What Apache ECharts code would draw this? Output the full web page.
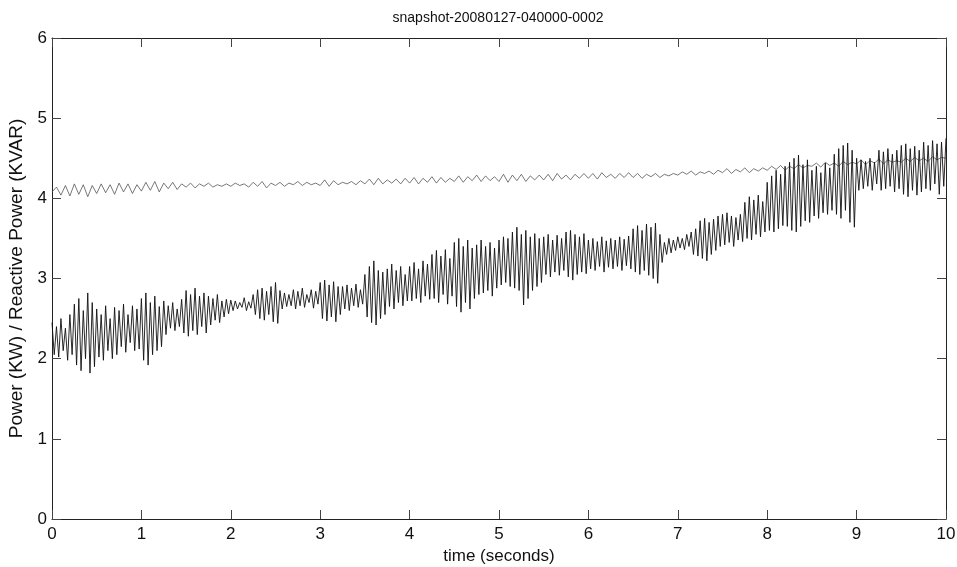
<!DOCTYPE html>
<html>
<head>
<meta charset="utf-8">
<script src="https://cdn.jsdelivr.net/npm/echarts@6/dist/echarts.min.js"></script>
<style>html,body{margin:0;padding:0;background:#fff}#c{width:957px;height:567px}</style>
</head>
<body>
<div id="c"></div>
<script>
const titleText = "snapshot-20080127-040000-0002";
const xName = "time (seconds)";
const yName = "Power (KW) / Reactive Power (KVAR)";
const xTicks = [0,1,2,3,4,5,6,7,8,9,10];
const yTicks = [0,1,2,3,4,5,6];

// Real power (KW), sampled every 0.025 s from t = 0 to 10
const powerStep = 0.025;
const powerKW = [
2.45,2.05,2.40,2.02,2.50,2.10,2.38,1.98,2.55,2.05,
2.68,1.92,2.75,1.85,2.60,2.00,2.82,1.82,2.70,1.90,
2.62,2.02,2.55,1.98,2.66,2.10,2.50,2.00,2.64,2.05,
2.60,2.15,2.68,2.08,2.55,2.20,2.66,2.10,2.62,2.12,
2.75,1.98,2.82,1.92,2.70,2.05,2.78,2.10,2.65,2.15,
2.72,2.30,2.66,2.38,2.70,2.35,2.62,2.40,2.74,2.32,
2.85,2.28,2.80,2.35,2.88,2.30,2.78,2.40,2.82,2.32,
2.78,2.42,2.75,2.48,2.80,2.45,2.72,2.52,2.74,2.56,
2.73,2.60,2.72,2.62,2.70,2.64,2.76,2.60,2.71,2.63,
2.80,2.55,2.86,2.50,2.88,2.48,2.84,2.55,2.90,2.46,
2.95,2.44,2.85,2.62,2.82,2.65,2.80,2.66,2.86,2.62,
2.84,2.66,2.88,2.64,2.80,2.70,2.86,2.63,2.84,2.68,
2.95,2.50,2.98,2.47,2.92,2.52,2.96,2.46,2.90,2.55,
2.90,2.62,2.92,2.60,2.88,2.66,2.93,2.64,2.86,2.68,
3.05,2.52,3.15,2.45,3.22,2.42,3.10,2.50,3.08,2.55,
3.12,2.65,3.18,2.62,3.10,2.70,3.15,2.66,3.05,2.72,
3.15,2.72,3.20,2.75,3.12,2.70,3.22,2.78,3.18,2.74,
3.30,2.75,3.35,2.70,3.28,2.80,3.36,2.68,3.25,2.78,
3.45,2.65,3.50,2.58,3.40,2.70,3.48,2.62,3.38,2.75,
3.42,2.80,3.48,2.82,3.40,2.85,3.45,2.78,3.38,2.88,
3.48,2.92,3.52,2.95,3.50,2.90,3.58,2.88,3.64,2.85,
3.55,2.67,3.60,2.75,3.52,2.85,3.56,2.90,3.50,2.95,
3.52,3.05,3.55,3.02,3.48,3.08,3.54,3.04,3.50,3.10,
3.58,3.02,3.60,2.98,3.55,3.05,3.52,3.08,3.56,3.06,
3.48,3.12,3.50,3.10,3.46,3.15,3.52,3.08,3.47,3.14,
3.50,3.12,3.48,3.15,3.52,3.10,3.49,3.16,3.53,3.12,
3.62,3.08,3.66,3.05,3.60,3.10,3.68,3.04,3.64,3.00,
3.69,2.94,3.55,3.20,3.45,3.30,3.50,3.32,3.48,3.35,
3.52,3.38,3.50,3.36,3.55,3.40,3.58,3.30,3.62,3.28,
3.72,3.25,3.75,3.22,3.70,3.30,3.74,3.35,3.78,3.40,
3.80,3.42,3.82,3.45,3.78,3.40,3.76,3.48,3.80,3.46,
3.95,3.50,4.02,3.48,3.98,3.55,4.04,3.52,3.96,3.58,
4.20,3.60,4.28,3.58,4.35,3.62,4.30,3.66,4.40,3.65,
4.45,3.60,4.50,3.58,4.54,3.65,4.42,3.72,4.48,3.70,
4.35,3.78,4.40,3.75,4.32,3.82,4.44,3.80,4.38,3.85,
4.55,3.80,4.62,3.75,4.66,3.85,4.69,3.70,4.60,3.64,
4.50,4.10,4.48,4.12,4.46,4.15,4.50,4.10,4.45,4.18,
4.60,4.10,4.58,4.12,4.62,4.15,4.55,4.08,4.60,4.12,
4.66,4.05,4.68,4.02,4.62,4.10,4.65,4.04,4.60,4.08,
4.70,4.12,4.66,4.10,4.72,4.18,4.68,4.05,4.70,4.15,
4.75
];

// Reactive power (KVAR), sampled every 0.05 s from t = 0 to 10
const reactiveStep = 0.05;
const reactiveKVAR = [
4.08,4.14,4.04,4.16,4.03,4.18,4.05,4.17,4.02,4.16,
4.06,4.18,4.07,4.17,4.05,4.19,4.08,4.18,4.06,4.17,
4.09,4.20,4.10,4.21,4.08,4.19,4.12,4.20,4.11,4.18,
4.14,4.19,4.13,4.18,4.15,4.19,4.14,4.17,4.15,4.18,
4.15,4.19,4.16,4.18,4.14,4.20,4.15,4.21,4.13,4.19,
4.16,4.20,4.15,4.19,4.17,4.21,4.16,4.20,4.17,4.19,
4.16,4.23,4.15,4.22,4.17,4.20,4.18,4.21,4.17,4.22,
4.18,4.24,4.17,4.25,4.18,4.23,4.19,4.24,4.18,4.25,
4.19,4.26,4.18,4.25,4.20,4.27,4.19,4.26,4.20,4.25,
4.21,4.28,4.20,4.27,4.22,4.29,4.21,4.28,4.22,4.27,
4.21,4.30,4.20,4.29,4.22,4.30,4.21,4.28,4.23,4.29,
4.23,4.30,4.22,4.31,4.24,4.29,4.23,4.30,4.25,4.31,
4.25,4.31,4.24,4.32,4.26,4.30,4.25,4.31,4.26,4.32,
4.26,4.31,4.25,4.30,4.27,4.31,4.26,4.30,4.28,4.31,
4.29,4.33,4.30,4.34,4.29,4.33,4.31,4.34,4.30,4.35,
4.32,4.37,4.31,4.36,4.33,4.38,4.32,4.37,4.34,4.38,
4.35,4.40,4.36,4.41,4.35,4.40,4.37,4.42,4.38,4.41,
4.40,4.44,4.39,4.45,4.41,4.44,4.40,4.46,4.42,4.45,
4.43,4.48,4.42,4.47,4.44,4.49,4.43,4.48,4.45,4.47,
4.45,4.50,4.46,4.51,4.47,4.50,4.46,4.52,4.48,4.51,
4.50
];

const toPairs = (vals, step) => vals.map((v, i) => [+(i * step).toFixed(4), v]);

const FONT = "'Liberation Sans', Arial, Helvetica, sans-serif";
const axisCommon = {
  axisLine: { show: true, onZero: false, lineStyle: { color: '#222', width: 1 } },
  axisTick: { show: true, inside: true, length: 9, lineStyle: { color: '#444', width: 1 } },
  splitLine: { show: false }
};

const chart = echarts.init(document.getElementById('c'), null, { renderer: 'canvas' });
chart.setOption({
  animation: false,
  backgroundColor: '#fff',
  title: {
    text: titleText, left: 493, top: 6, textAlign: 'center',
    textStyle: { fontFamily: FONT, fontSize: 14, fontWeight: 'normal', color: '#111' }
  },
  grid: { left: 52, right: 11, top: 38, bottom: 48, containLabel: false, outerBoundsMode: 'none' },
  xAxis: [
    Object.assign({
      type: 'value', min: xTicks[0], max: xTicks[xTicks.length - 1], interval: 1, position: 'bottom',
      name: xName, nameLocation: 'middle', nameGap: 26,
      nameTextStyle: { fontFamily: FONT, fontSize: 17, color: '#111' },
      axisLabel: { fontFamily: FONT, fontSize: 17, color: '#111', margin: 7 }
    }, axisCommon),
    Object.assign({
      type: 'value', min: xTicks[0], max: xTicks[xTicks.length - 1], interval: 1, position: 'top',
      axisLabel: { show: false }
    }, axisCommon)
  ],
  yAxis: [
    Object.assign({
      type: 'value', min: yTicks[0], max: yTicks[yTicks.length - 1], interval: 1, position: 'left',
      name: yName, nameLocation: 'middle', nameGap: 24, nameRotate: 90,
      nameTextStyle: { fontFamily: FONT, fontSize: 19, color: '#111' },
      axisLabel: { fontFamily: FONT, fontSize: 17, color: '#111', margin: 5 }
    }, axisCommon),
    Object.assign({
      type: 'value', min: yTicks[0], max: yTicks[yTicks.length - 1], interval: 1, position: 'right',
      axisLabel: { show: false }
    }, axisCommon)
  ],
  series: [
    {
      name: 'Reactive Power (KVAR)', type: 'line', xAxisIndex: 0, yAxisIndex: 0,
      data: toPairs(reactiveKVAR, reactiveStep), showSymbol: false, symbol: 'none',
      lineStyle: { color: '#555', width: 0.8 }
    },
    {
      name: 'Power (KW)', type: 'line', xAxisIndex: 0, yAxisIndex: 0,
      data: toPairs(powerKW, powerStep), showSymbol: false, symbol: 'none',
      lineStyle: { color: '#111', width: 0.9 }
    }
  ]
});
</script>
</body>
</html>
